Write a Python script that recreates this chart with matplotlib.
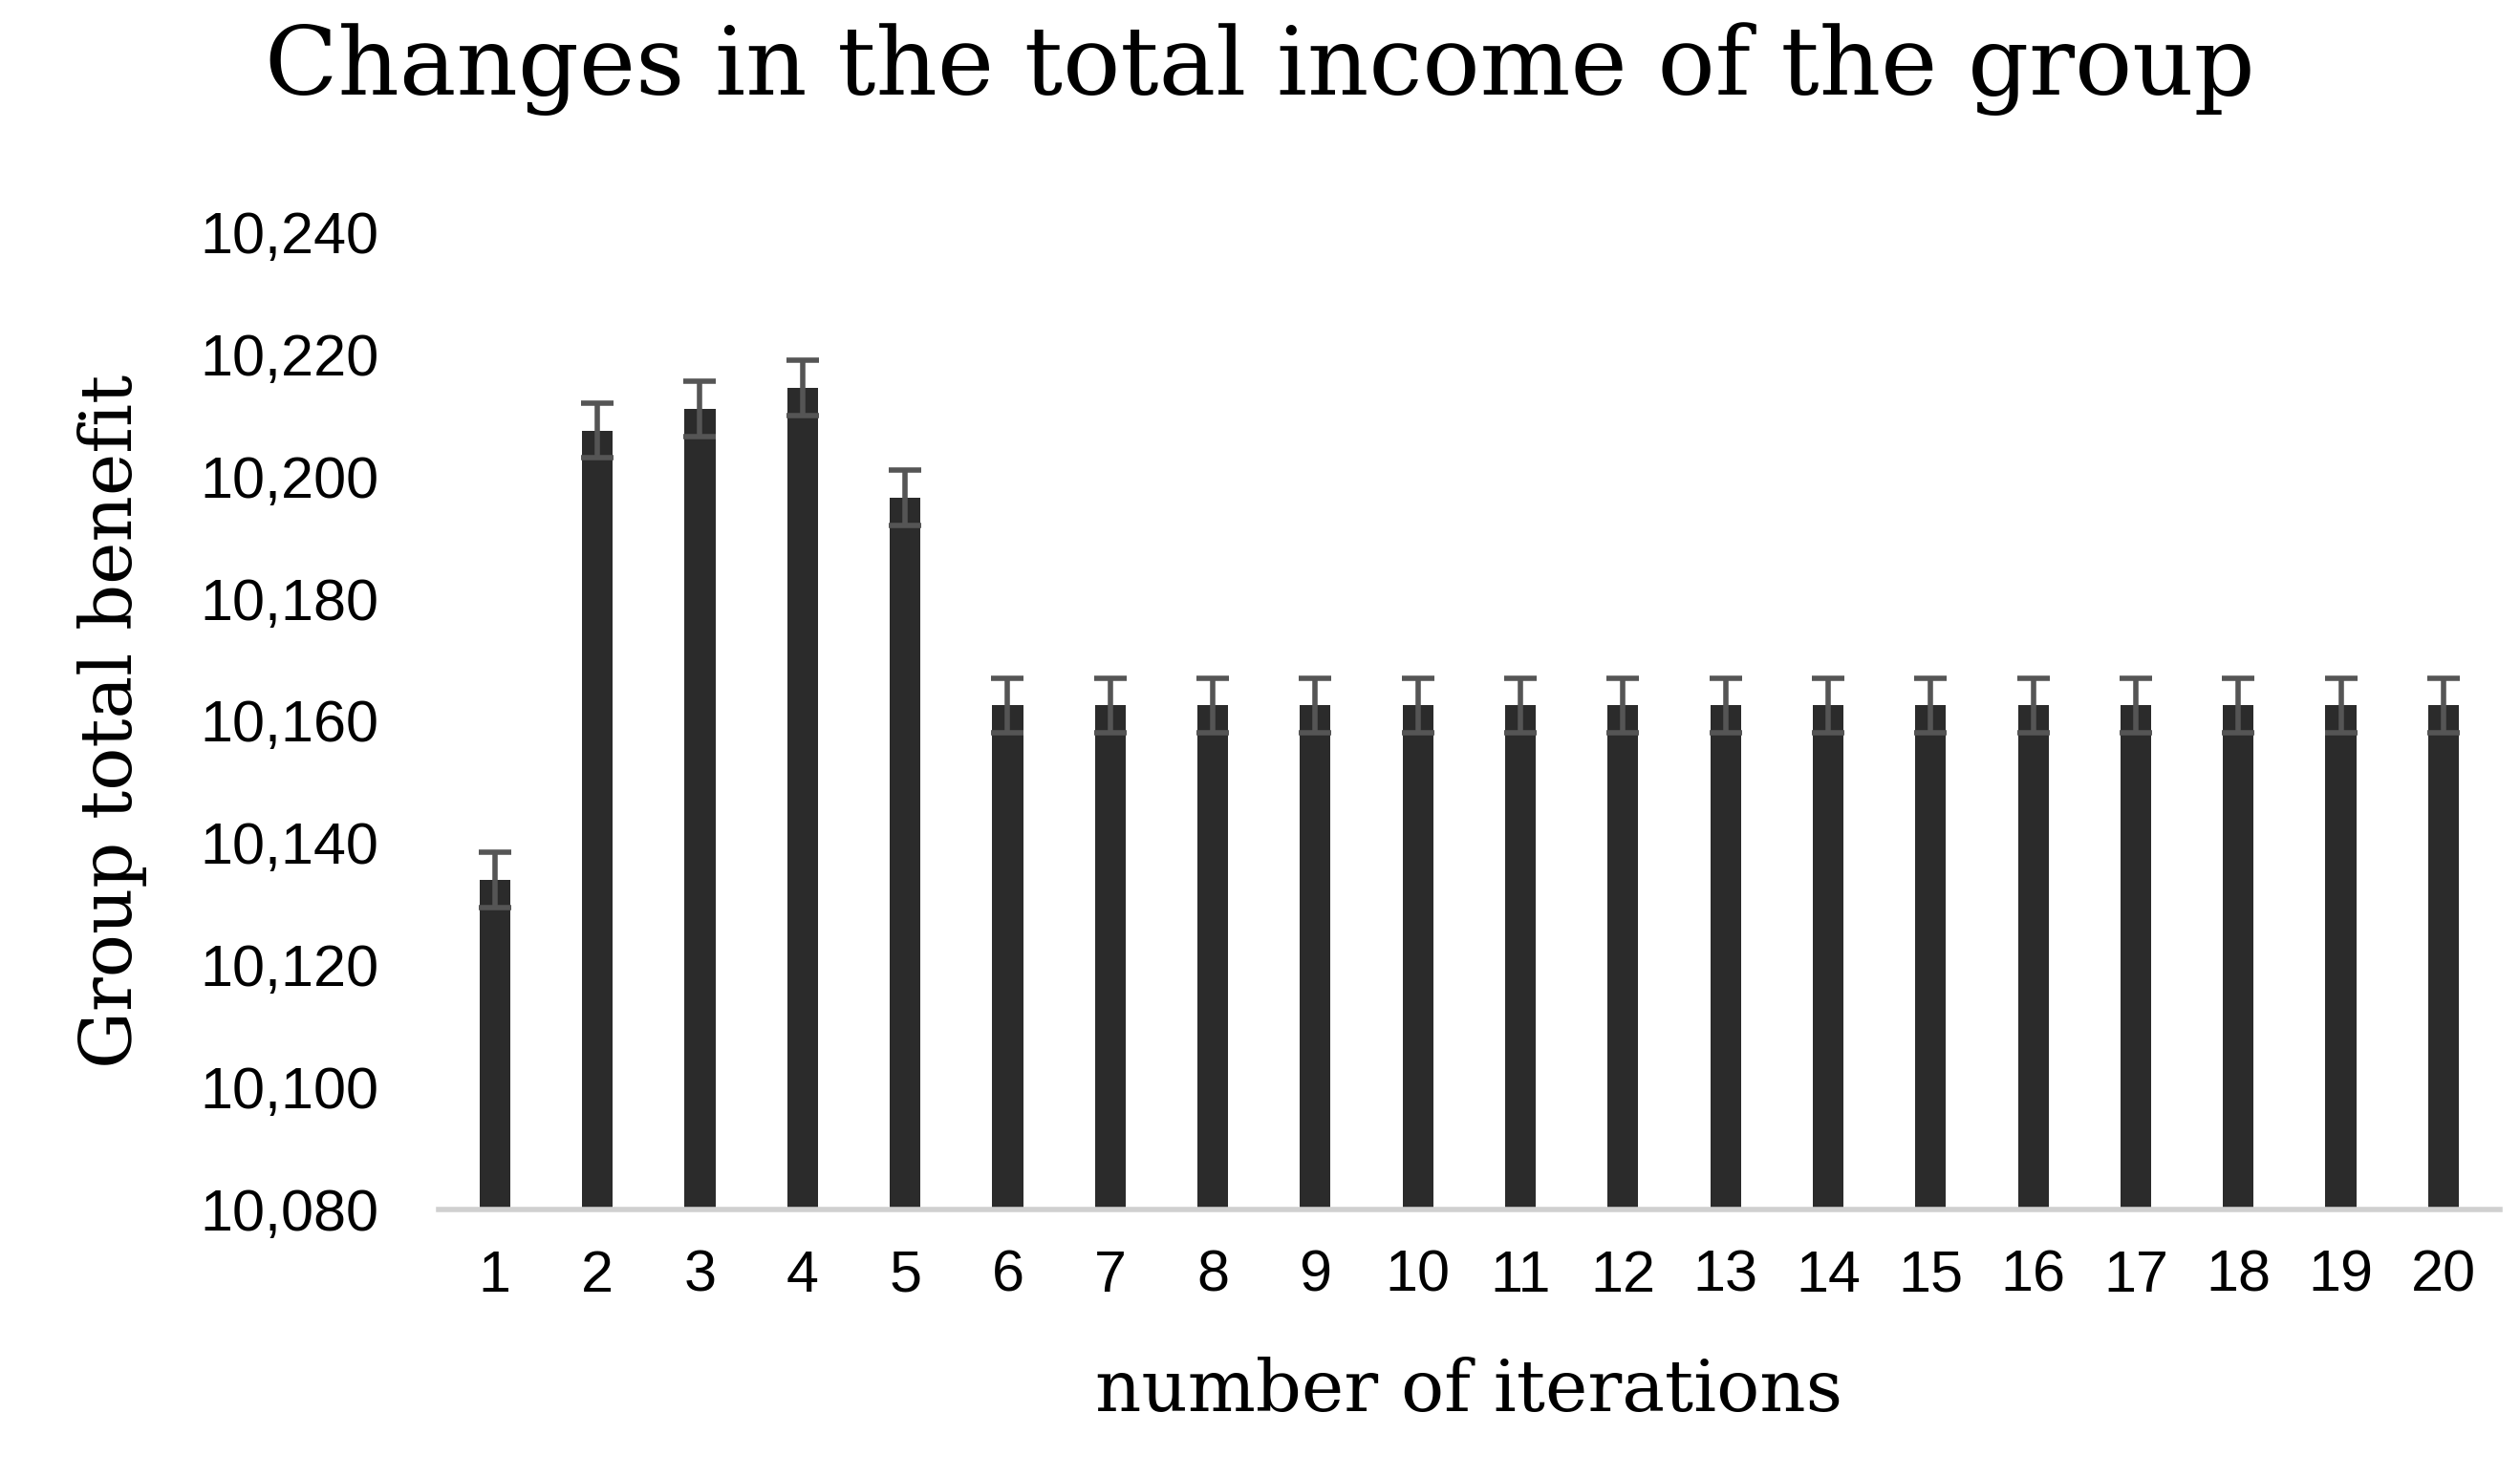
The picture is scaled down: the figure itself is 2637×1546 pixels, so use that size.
import matplotlib
matplotlib.use("Agg")
import matplotlib.pyplot as plt

# data
iterations = [str(i) for i in range(1, 21)]
benefit = [10134, 10207.5, 10211, 10214.5, 10196.5] + [10162.5] * 15
error = [4.5] * 20

yticks = list(range(10080, 10241, 20))

fig = plt.figure(figsize=(26.37, 15.46), dpi=100)
ax = fig.add_axes([0.174, 0.181, 0.818, 0.662])

x = list(range(len(iterations)))
ax.bar(x, benefit, width=0.3, color="#2b2b2b", zorder=2)
ax.errorbar(x, benefit, yerr=error, fmt="none", ecolor="#555555",
            elinewidth=4, capsize=12, capthick=4, zorder=3)

ax.set_ylim(10080, 10240)
ax.set_xlim(-0.55, len(iterations) - 0.45)
ax.set_yticks(yticks)
ax.set_yticklabels([f"{v:,}" for v in yticks], family="Liberation Sans")
ax.set_xticks(x)
ax.set_xticklabels(iterations, family="Liberation Sans")

for s in ["top", "right", "left"]:
    ax.spines[s].set_visible(False)
ax.spines["bottom"].set_color("#d0d0d0")
ax.spines["bottom"].set_linewidth(4)
ax.tick_params(length=0, labelsize=44, pad=30)
ax.tick_params(axis="y", pad=45)

ax.set_xlabel("number of iterations", fontsize=54, family="DejaVu Serif", labelpad=40)
ax.set_ylabel("Group total benefit", fontsize=54, family="DejaVu Serif", labelpad=40)
fig.suptitle("Changes in the total income of the group", fontsize=72,
             family="DejaVu Serif", y=0.985)

fig.savefig("out.png", dpi=100)
